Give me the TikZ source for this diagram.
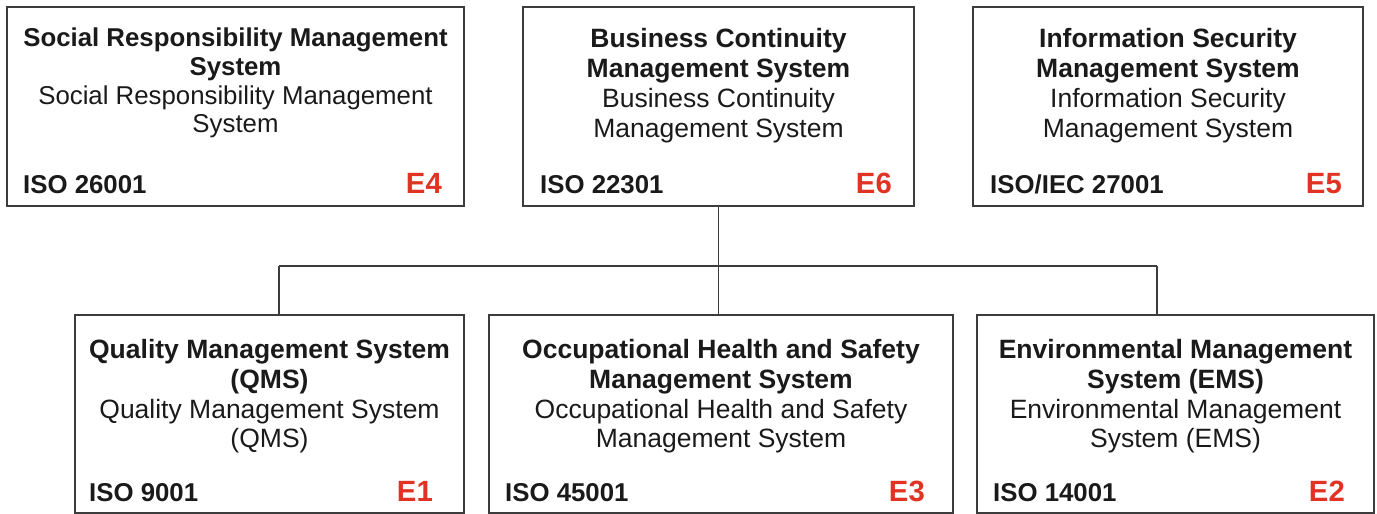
\documentclass[tikz,border=0pt]{standalone}
\usepackage{fontspec}
\setmainfont{Liberation Sans}
\definecolor{txt}{HTML}{1A1A1A}
\definecolor{ered}{HTML}{E03323}
\definecolor{edge}{HTML}{3C3C3C}
\begin{document}
\begin{tikzpicture}[x=1pt,y=-1pt,
  boxstyle/.style={draw=edge, line width=1.3pt, inner sep=0pt, outer sep=0pt, anchor=north west},
  conn/.style={draw=edge, line width=1.1pt},
  bt/.style={anchor=base, inner sep=0pt, text=txt, font=\fontsize{#1}{30}\selectfont\bfseries},
  bt/.default=26.5,
  nt/.style={anchor=base, inner sep=0pt, text=txt, font=\fontsize{#1}{30}\selectfont},
  nt/.default=26.5,
  isotxt/.style={anchor=base west, inner sep=0pt, text=txt, font=\fontsize{25.8}{29.5}\selectfont\bfseries},
  elabel/.style={anchor=base east, inner sep=0pt, text=ered, font=\fontsize{29.3}{32}\selectfont\bfseries}]
\useasboundingbox (0,0) rectangle (1377,514);

% boxes
\node[boxstyle, minimum width=457pt, minimum height=199pt] (tl) at (7,7) {};
\node[boxstyle, minimum width=391pt, minimum height=199pt] (tm) at (523,7) {};
\node[boxstyle, minimum width=390pt, minimum height=199pt] (tr) at (973,7) {};
\node[boxstyle, minimum width=389pt, minimum height=198pt] (bl) at (75,315) {};
\node[boxstyle, minimum width=464pt, minimum height=198pt] (bm) at (489,315) {};
\node[boxstyle, minimum width=397pt, minimum height=198pt] (br) at (977,315) {};

% top-left
\node[bt=25.8] (tl1) at (235.5,46) {Social Responsibility Management};
\node[bt=25.8] (tl2) at (235.5,75) {System};
\node[nt=25.8] (tl3) at (235.5,104) {Social Responsibility Management};
\node[nt=25.8] (tl4) at (235.5,132.5) {System};
\node[isotxt] (tliso) at (23,193) {ISO 26001};
\node[elabel] (tle) at (442,193) {E4};

% top-middle
\node[bt] (tm1) at (718.5,47) {Business Continuity};
\node[bt] (tm2) at (718.5,77.5) {Management System};
\node[nt] (tm3) at (718.5,107.5) {Business Continuity};
\node[nt] (tm4) at (718.5,137) {Management System};
\node[isotxt] (tmiso) at (540,193) {ISO 22301};
\node[elabel] (tme) at (892,193) {E6};

% top-right
\node[bt] (tr1) at (1168,47) {Information Security};
\node[bt] (tr2) at (1168,77.5) {Management System};
\node[nt] (tr3) at (1168,107.5) {Information Security};
\node[nt] (tr4) at (1168,137) {Management System};
\node[isotxt] (triso) at (990,193) {ISO/IEC 27001};
\node[elabel] (tre) at (1342,193) {E5};

% bottom-left
\node[bt] (bl1) at (269.5,358) {Quality Management System};
\node[bt] (bl2) at (269.5,388) {(QMS)};
\node[nt] (bl3) at (269.5,418) {Quality Management System};
\node[nt] (bl4) at (269.5,447.5) {(QMS)};
\node[isotxt] (bliso) at (89,501) {ISO 9001};
\node[elabel] (ble) at (433,501) {E1};

% bottom-middle
\node[bt] (bm1) at (721,358) {Occupational Health and Safety};
\node[bt] (bm2) at (721,388) {Management System};
\node[nt] (bm3) at (721,418) {Occupational Health and Safety};
\node[nt] (bm4) at (721,447.5) {Management System};
\node[isotxt] (bmiso) at (505,501) {ISO 45001};
\node[elabel] (bme) at (925,501) {E3};

% bottom-right
\node[bt] (br1) at (1175.5,358) {Environmental Management};
\node[bt] (br2) at (1175.5,388) {System (EMS)};
\node[nt] (br3) at (1175.5,418) {Environmental Management};
\node[nt] (br4) at (1175.5,447.5) {System (EMS)};
\node[isotxt] (briso) at (993,501) {ISO 14001};
\node[elabel] (bre) at (1345,501) {E2};

% connectors
\coordinate (hub) at (718.5,266);
\coordinate (jl) at (279,266);
\coordinate (jr) at (1157,266);
\draw[conn] (tm.south) -- (hub);
\draw[conn] (jl) -- (jr);
\draw[conn] (jl) -- (jl |- bl.north);
\draw[conn] (hub) -- (hub |- bm.north);
\draw[conn] (jr) -- (jr |- br.north);
\end{tikzpicture}
\end{document}
